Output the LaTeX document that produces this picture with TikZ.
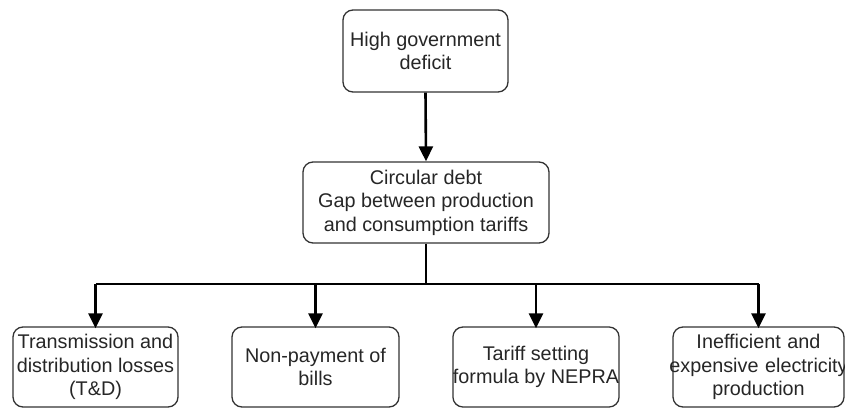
\documentclass[tikz,border=0pt]{standalone}
\usepackage{fontspec}
\setmainfont{Liberation Sans}
\usetikzlibrary{arrows.meta}
\begin{document}
\begin{tikzpicture}[x=1pt,y=-1pt,
  every node/.style={font=\fontsize{19.8}{23.5}\selectfont, text=black!85},
  box/.style={draw=black!80, line width=1.3pt, rounded corners=10pt, align=center, inner sep=0pt},
  link/.style={line width=2.6pt, -{Triangle[length=15pt,width=14pt]}},
  bus/.style={line width=2.6pt}]
  \useasboundingbox (0,0) rectangle (845,409);

  % boxes: drawn with fixed sizes
  \node[box, minimum width=165pt, minimum height=82pt] (top) at (425.5,51) {High government\\deficit};
  \node[box, minimum width=246pt, minimum height=81pt] (mid) at (426,202.5) {Circular debt\\Gap between production\\and consumption tariffs};
  \node[box, minimum width=165pt, minimum height=80pt] (b1) at (95.5,367) {Transmission and\\distribution losses\\(T\&D)};
  \node[box, minimum width=167pt, minimum height=80pt] (b2) at (315.5,367) {Non-payment of\\bills};
  \node[box, minimum width=166pt, minimum height=80pt] (b3) at (536,367) {Tariff setting\\formula by NEPRA};
  \node[box, minimum width=171pt, minimum height=80pt, text width=171pt] (b4) at (758.5,367) {Inefficient and\\\makebox[0pt]{expensive electricity}\\production};

  % connectors
  \draw[link] (top.south) -- (mid.north);
  \coordinate (hub) at (426,284);
  \draw[bus] (mid.south) -- (hub);
  \draw[bus] (b1.north |- hub) -- (b4.north |- hub);
  \foreach \b in {b1,b2,b3,b4}
    \draw[link] (\b.north |- hub) -- ([yshift=-2pt]\b.north);
\end{tikzpicture}
\end{document}
